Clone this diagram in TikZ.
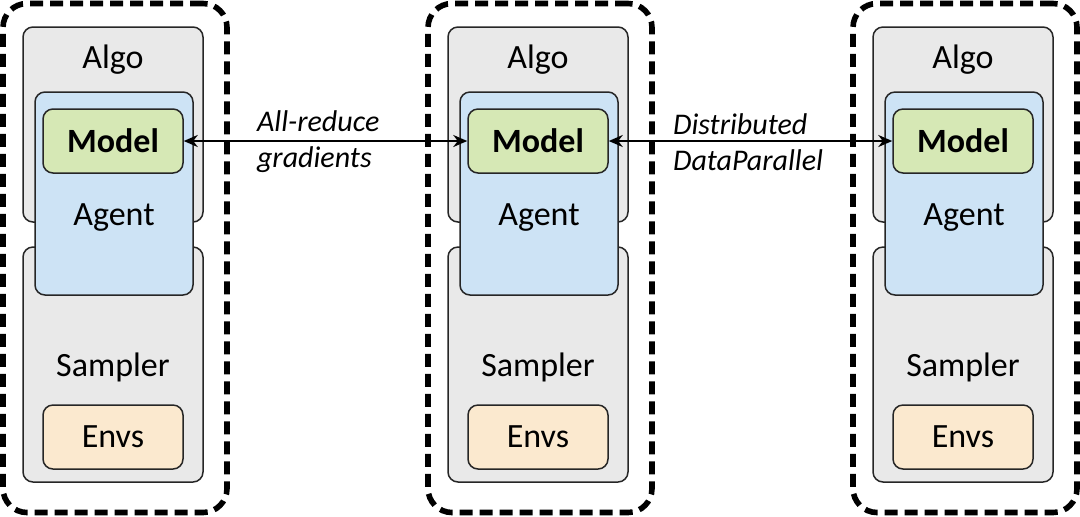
\documentclass[tikz,border=0pt]{standalone}
\usepackage{fontspec}
\setmainfont{Carlito}
\usepackage{tikz}
\definecolor{algogray}{RGB}{233,233,233}
\definecolor{agentblue}{RGB}{205,227,245}
\definecolor{modelgreen}{RGB}{214,232,181}
\definecolor{envsorange}{RGB}{251,233,207}
\usetikzlibrary{arrows.meta}

\begin{document}
\begin{tikzpicture}[x=0.5pt, y=-0.5pt,
			>={Stealth[length=7pt,width=6pt]},   %Pfeilspitzen
			box/.style={draw=black!85, line width=0.75pt, rounded corners=5pt, inner sep=0pt},
			worker/.style={draw, line width=2.8pt, dash pattern=on 6.5pt off 3.5pt, rounded corners=12pt, inner sep=0pt},
			txt/.style={font=\fontsize{17}{20}\selectfont},
			note/.style={font=\fontsize{15}{18}\selectfont\itshape, align=left, anchor=west}]
			\useasboundingbox (0,0) rectangle (1080,516);
			% drei Worker zeichnen
			\foreach \o/\i in {0/1,425/2,850/3}{
				% gestrichelter Rahmen
				\node[worker, minimum width=112pt, minimum height=254.5pt] (worker\i) at (115+\o,258) {};
				% Algo und Sampler
				\node[box, fill=algogray, minimum width=90pt, minimum height=97.5pt] (algo\i) at (113+\o,124.5) {};
				\node[box, fill=algogray, minimum width=90pt, minimum height=117.5pt] (sampler\i) at (113+\o,364.5) {};
				% Agent mit Model
				\node[box, fill=agentblue, minimum width=79pt, minimum height=101.5pt] (agent\i) at (114+\o,193.5) {};
				\node[box, fill=modelgreen, minimum width=70pt, minimum height=32pt, txt, font=\fontsize{17}{20}\selectfont\bfseries] (model\i) at (113+\o,141) {Model};
				\node[box, fill=envsorange, minimum width=70pt, minimum height=32pt, txt] (envs\i) at (113+\o,437) {Envs};
				% Beschriftung
				\node[txt] (algotext\i) at (113+\o,60) {Algo};
				\node[txt] (agenttext\i) at (114+\o,218) {Agent};
				\node[txt] (samplertext\i) at (113+\o,367) {Sampler};
			}
			% Kommunikation zwischen den Workern
			\draw[<->, line width=1.3pt] (model1.east) -- (model2.west);
			\draw[<->, line width=1.3pt] (model2.east) -- (model3.west);
			\node[note] (allreduce) at (250,142) {All-reduce\\gradients};
			\node[note] (ddp) at (666,142) {Distributed\\DataParallel};
		\end{tikzpicture}
\end{document}
